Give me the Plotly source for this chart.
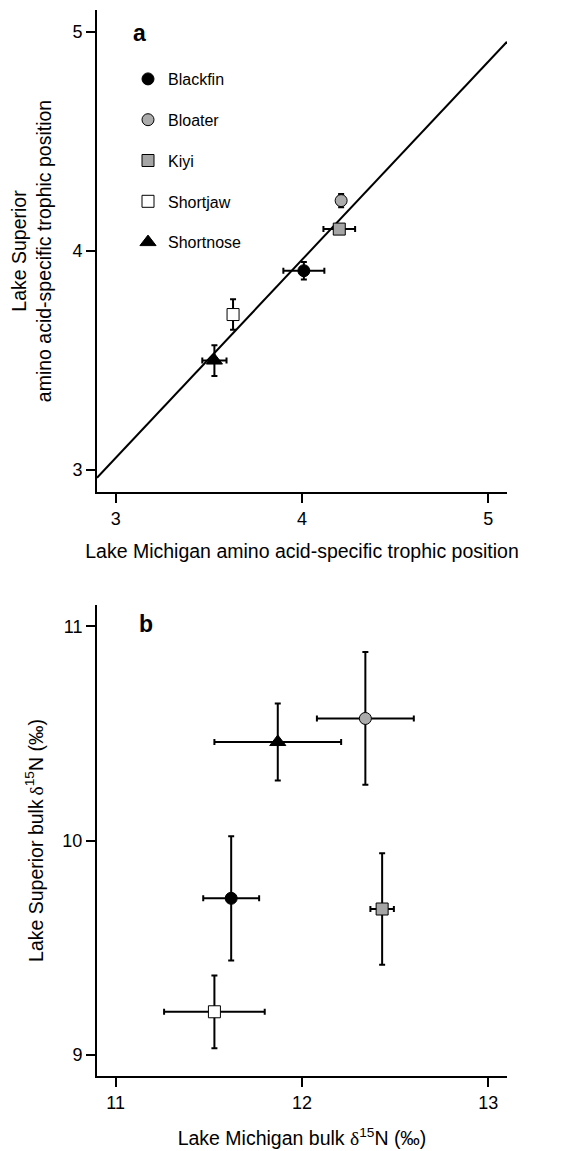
import plotly.graph_objects as go

# ---- data ----
species = ["Blackfin", "Bloater", "Kiyi", "Shortjaw", "Shortnose"]
symbols = ["circle", "circle", "square", "square", "triangle-up"]
fills = ["#000000", "#ababab", "#a5a5a5", "#ffffff", "#000000"]

# panel a: amino acid-specific trophic position
a_x = [4.01, 4.21, 4.20, 3.63, 3.53]
a_y = [3.91, 4.23, 4.10, 3.71, 3.50]
a_xerr = [0.11, 0.0, 0.085, 0.0, 0.065]
a_yerr = [0.04, 0.03, 0.0, 0.07, 0.07]
fit_x = [2.9, 5.1]
fit_y = [2.965, 4.955]

# panel b: bulk d15N
b_x = [11.62, 12.34, 12.43, 11.53, 11.87]
b_y = [9.73, 10.57, 9.68, 9.20, 10.46]
b_xerr = [0.15, 0.26, 0.063, 0.27, 0.34]
b_yerr = [0.29, 0.31, 0.26, 0.17, 0.18]

a_ticks = [3, 4, 5]
b_xticks = [11, 12, 13]
b_yticks = [9, 10, 11]

FONT = "Liberation Sans, Arial, sans-serif"
OFF = 8  # page body margin
W, H = 569 - OFF, 1151 - OFF


def px(x):
    return (x - OFF) / W


def py(y):
    return 1 - (y - OFF) / H


fig = go.Figure()

fig.add_trace(go.Scatter(x=fit_x, y=fit_y, mode="lines",
                         line=dict(color="black", width=2),
                         showlegend=False, hoverinfo="skip",
                         xaxis="x", yaxis="y"))

for i, name in enumerate(species):
    marker = dict(symbol=symbols[i], size=12 if symbols[i] != "triangle-up" else 14,
                  color=fills[i], line=dict(color="black", width=1))
    fig.add_trace(go.Scatter(
        x=[a_x[i]], y=[a_y[i]], mode="markers", name=name,
        marker=marker, legendgroup=name,
        error_x=dict(type="data", array=[a_xerr[i]], color="black", thickness=2, width=3,
                     visible=a_xerr[i] > 0),
        error_y=dict(type="data", array=[a_yerr[i]], color="black", thickness=2, width=3,
                     visible=a_yerr[i] > 0),
        xaxis="x", yaxis="y"))

for i, name in enumerate(species):
    marker = dict(symbol=symbols[i], size=12 if symbols[i] != "triangle-up" else 14,
                  color=fills[i], line=dict(color="black", width=1))
    fig.add_trace(go.Scatter(
        x=[b_x[i]], y=[b_y[i]], mode="markers", name=name,
        marker=marker, showlegend=False, legendgroup=name,
        error_x=dict(type="data", array=[b_xerr[i]], color="black", thickness=2, width=3),
        error_y=dict(type="data", array=[b_yerr[i]], color="black", thickness=2, width=3),
        xaxis="x2", yaxis="y2"))

axis_common = dict(showline=True, linecolor="black", linewidth=2, ticks="outside",
                   ticklen=9, tickwidth=2, tickcolor="black", showgrid=False,
                   zeroline=False, mirror=False,
                   tickfont=dict(family=FONT, size=18, color="black"),
                   automargin=False)

xdom = [px(97), px(507)]
fig.update_layout(
    width=W, height=H,
    paper_bgcolor="white", plot_bgcolor="white",
    margin=dict(l=0, r=0, t=0, b=0),
    font=dict(family=FONT, color="black"),
    xaxis=dict(domain=xdom, range=[2.9, 5.1], tickvals=a_ticks, anchor="y",
               title=dict(text="Lake Michigan amino acid-specific trophic position",
                          font=dict(size=19.5, family=FONT), standoff=17),
               **axis_common),
    yaxis=dict(domain=[py(492), py(10)], range=[2.9, 5.1], tickvals=a_ticks,
               anchor="x",
               title=dict(text="Lake Superior<br>amino acid-specific trophic position",
                          font=dict(size=19.5, family=FONT), standoff=26),
               **axis_common),
    xaxis2=dict(domain=xdom, range=[10.9, 13.1], tickvals=b_xticks, anchor="y2",
                title=dict(text="Lake Michigan bulk <span style='font-family:Liberation Serif'>δ</span><sup>15</sup>N (‰)",
                           font=dict(size=19.5, family=FONT), standoff=20),
                **axis_common),
    yaxis2=dict(domain=[py(1076), py(605)], range=[8.9, 11.1], tickvals=b_yticks,
                anchor="x2",
                title=dict(text="Lake Superior bulk\u2009<span style='font-family:Liberation Serif'>δ</span><sup>15</sup>N (‰)",
                           font=dict(size=19.5, family=FONT), standoff=14),
                **axis_common),
    legend=dict(x=px(128), y=py(62), xanchor="left", yanchor="top",
                bgcolor="rgba(0,0,0,0)", font=dict(size=16, family=FONT, color="black"),
                tracegroupgap=17, traceorder="grouped"),
    showlegend=True,
)

fig.add_annotation(text="<b>a</b>", x=px(139), y=py(33), xref="paper", yref="paper",
                   xanchor="center", yanchor="middle",
                   showarrow=False, font=dict(size=23, family=FONT, color="black"))
fig.add_annotation(text="<b>b</b>", x=px(146), y=py(624), xref="paper", yref="paper",
                   xanchor="center", yanchor="middle",
                   showarrow=False, font=dict(size=23, family=FONT, color="black"))

fig.write_html("out.html")
